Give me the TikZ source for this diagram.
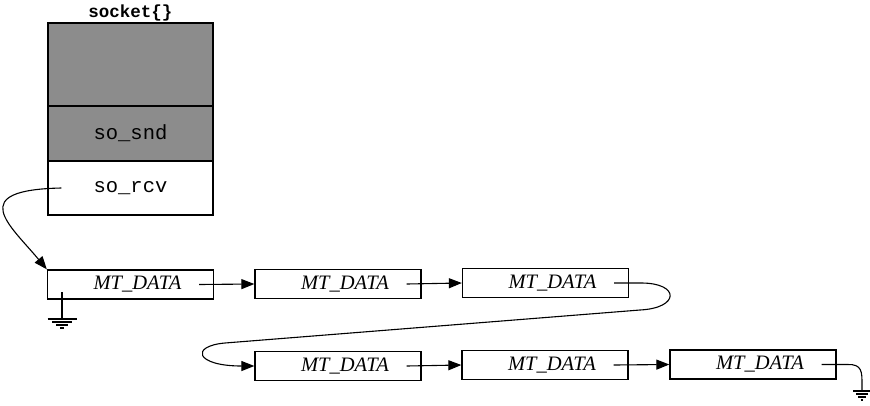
\documentclass[tikz,border=0pt]{standalone}
\usepackage{fontspec}
\setmainfont{Liberation Serif}
\setmonofont{Liberation Mono}
\usetikzlibrary{positioning,arrows.meta,calc}
\def\mt{\hspace*{14pt}\textit{MT\_DATA}}
\newcommand\gnd[2]{%
  \foreach \d/\w in {0/1,3/0.68,6/0.4,9/0.14}
    \draw[wire] ($(#1)+(-#2*\w,\d)$) -- ($(#1)+(#2*\w,\d)$);}

\begin{document}
\begin{tikzpicture}[x=1pt,y=-1pt,
  field/.style={draw,line width=1.3pt,minimum width=165pt,inner sep=0pt,font=\fontsize{20.5}{22}\selectfont\ttfamily},
  mbuf/.style={draw,line width=1.3pt,minimum width=166pt,minimum height=29pt,inner sep=0pt,font=\fontsize{20.5}{22}\selectfont},
  ptr/.style={line width=1.1pt,-{Triangle[length=13pt,width=10pt]}},
  wire/.style={line width=1.1pt}]
\useasboundingbox (0,0) rectangle (870,405);
% socket structure
\node[font=\fontsize{17.5}{20}\selectfont\ttfamily\bfseries] (sockLbl) at (130.5,13) {socket\{\}};
\node[field,fill=black!45,minimum height=83pt] (sockTop) at (130.5,64.5) {};
\node[field,fill=black!45,minimum height=55pt] (sockSnd) at (130.5,133.5) {so\_snd};
\node[field,minimum height=54pt] (sockRcv) at (130.5,188) {so\_rcv};
% receive queue
\foreach \n/\x/\y in {1/130.5/284.5,2/338/284,3/545.5/283,4/338/366,5/545/365,6/753/364.5}
  \node[mbuf] (m\n) at (\x,\y) {\mt};
\coordinate (rcvp) at ($(sockRcv.west)+(14,0)$);
\foreach \n in {1,...,6}
  \coordinate (p\n) at ($(m\n.east)+(-15,0)$);
\coordinate (g1) at (62,292);
\coordinate (g1b) at (62,319);
\coordinate (g6) at (862,391);

\draw[ptr] (rcvp) .. controls (-35,190) and (10,225) .. (m1.north west);
\draw[ptr] (p1) -- (m2.west);
\draw[ptr] (p2) -- (m3.west);
\draw[ptr] (p3) -- ++(27,0) .. controls (680,283) and (680,308) .. (640,310)
  -- (225,343) .. controls (190,346) and (195,366) .. (m4.west);
\draw[ptr] (p4) -- (m5.west);
\draw[ptr] (p5) -- (m6.west);
\draw[wire] (p6) -- ++(26,0) .. controls (862,364) and (862,372) .. (862,384) -- (g6);
\draw[wire] (g1) -- (g1b);
\gnd{g1b}{14.5}
\gnd{g6}{9}
\end{tikzpicture}
\end{document}
